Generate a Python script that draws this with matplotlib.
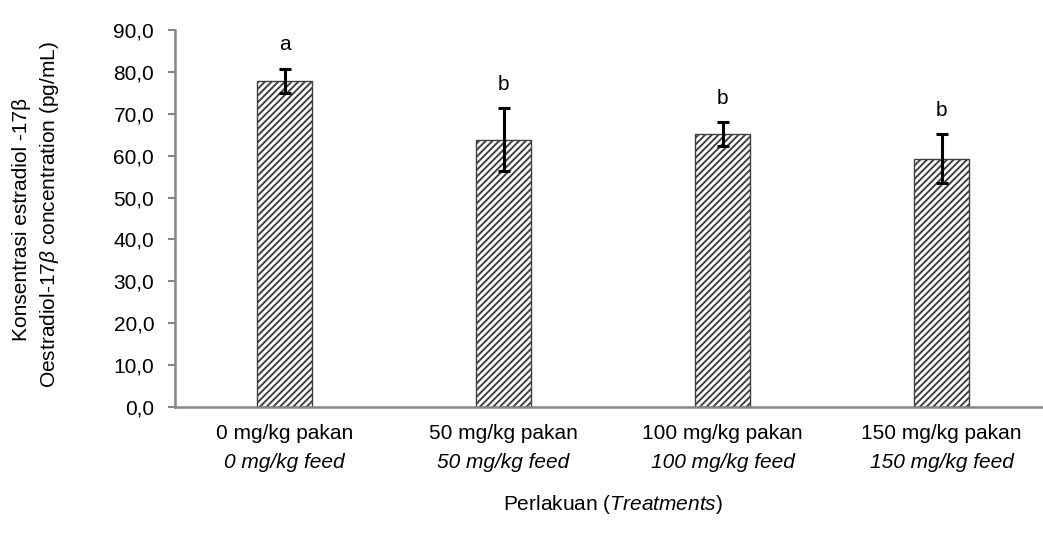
import matplotlib
matplotlib.use("Agg")
import matplotlib.pyplot as plt
import matplotlib.transforms as mtransforms
from matplotlib import font_manager
import numpy as np

# data
treat_id = ["0 mg/kg pakan", "50 mg/kg pakan", "100 mg/kg pakan", "150 mg/kg pakan"]
treat_en = ["0 mg/kg feed", "50 mg/kg feed", "100 mg/kg feed", "150 mg/kg feed"]
means = [77.9, 63.8, 65.1, 59.3]
errors = [2.9, 7.5, 2.9, 5.9]
letters = ["a", "b", "b", "b"]
yticks = [0, 10, 20, 30, 40, 50, 60, 70, 80, 90]

names = {f.name for f in font_manager.fontManager.ttflist}
fam = "Liberation Sans Narrow" if "Liberation Sans Narrow" in names else "Liberation Sans"
plt.rcParams["font.family"] = [fam, "DejaVu Sans"]
plt.rcParams["mathtext.fontset"] = "custom"
plt.rcParams["mathtext.it"] = fam + ":italic"
plt.rcParams["mathtext.rm"] = fam
plt.rcParams["hatch.linewidth"] = 1.4
plt.rcParams["hatch.color"] = "black"

fs = 15
grey = "#868686"

fig = plt.figure(figsize=(10.43, 5.35), dpi=100)
ax = fig.add_axes([175 / 1043, 1 - 407 / 535, 876 / 1043, 377 / 535])

x = np.arange(len(means))
ax.bar(x, means, width=0.255, color="white", edgecolor="#404040",
       linewidth=1.0, hatch="/////", zorder=2)
ax.errorbar(x, means, yerr=errors, fmt="none", ecolor="black",
            elinewidth=2.2, capsize=4.5, capthick=2.2, zorder=3)

for xi, m, e, lab in zip(x, means, errors, letters):
    ax.annotate(lab, (xi, m + e), xytext=(0, 13), textcoords="offset points",
                ha="center", va="baseline", fontsize=fs)

ax.set_xlim(-0.5, 3.5)
ax.set_ylim(0, 90)
ax.set_yticks(yticks)
ax.set_yticklabels([f"{v:.1f}".replace(".", ",") for v in yticks], fontsize=fs)
ax.tick_params(axis="y", length=5, width=1.5, color=grey, pad=10)
ax.set_xticks(x)
ax.set_xticklabels(treat_id, fontsize=fs)
ax.tick_params(axis="x", length=0, pad=12)

trans = mtransforms.blended_transform_factory(ax.transData, ax.transAxes)
for xi, lab in zip(x, treat_en):
    ax.text(xi, -0.148, lab, transform=trans, ha="center", va="center",
            fontsize=fs, style="italic")

for s in ["top", "right"]:
    ax.spines[s].set_visible(False)
for s in ["left", "bottom"]:
    ax.spines[s].set_color(grey)
    ax.spines[s].set_linewidth(1.8)

fig.text(613 / 1043, 1 - 505 / 535, "Perlakuan ($\\it{Treatments}$)",
         ha="center", va="center", fontsize=fs)
fig.text(22 / 1043, 1 - 219 / 535, "Konsentrasi estradiol -17β",
         rotation=90, ha="center", va="center", fontsize=fs)
fig.text(50 / 1043, 1 - 215 / 535,
         "Oestradiol-17$\\it{\\beta}$ concentration (pg/mL)",
         rotation=90, ha="center", va="center", fontsize=fs)

fig.savefig("out.png", dpi=100)
